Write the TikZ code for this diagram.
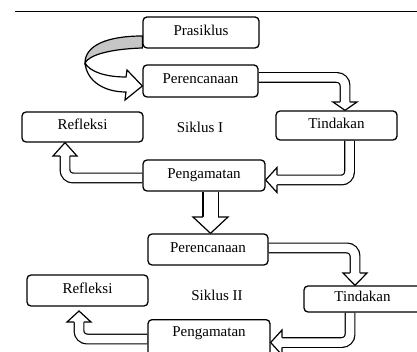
\documentclass[tikz,border=0pt]{standalone}
\usepackage{fontspec}
\setmainfont{Liberation Serif}
\usetikzlibrary{backgrounds}
\begin{document}
\begin{tikzpicture}[x=1pt,y=-1pt,
  box/.style={draw, line width=1.3pt, rounded corners=4pt, fill=white, font=\fontsize{15}{17}\selectfont, inner sep=0pt, text height=1.6ex, text depth=0.35ex},
  shaft/.style={line width=1.2pt, double=white, double distance=8.5pt, rounded corners=8pt},
  wideshaft/.style={line width=1.2pt, double=white, double distance=14pt},
  head/.style={line width=1.2pt, fill=white, line join=miter},
  lbl/.style={font=\fontsize{15}{17}\selectfont}]
\useasboundingbox (0,0) rectangle (417,352);
\draw[line width=1pt] (15,12) -- (417,12);

% boxes
\node[box, minimum width=116pt, minimum height=31pt] (pra) at (201,32.5) {Prasiklus};
\node[box, minimum width=115pt, minimum height=32pt] (per1) at (200.5,81) {Perencanaan};
\node[box, minimum width=121pt, minimum height=30pt] (ref1) at (82.5,127) {Refleksi};
\node[box, minimum width=121pt, minimum height=29pt] (tind1) at (336.5,125.5) {Tindakan};
\node[box, minimum width=122pt, minimum height=31pt] (pen1) at (204,175.5) {Pengamatan};
\node[box, minimum width=120pt, minimum height=31pt] (per2) at (208,249.5) {Perencanaan};
\node[box, minimum width=121pt, minimum height=31pt] (ref2) at (87.5,290.5) {Refleksi};
\node[box, minimum width=117pt, minimum height=26pt] (tind2) at (362.5,299) {Tindakan};
\node[box, minimum width=122pt, anchor=north, inner ysep=4pt, text height=13pt, text depth=22pt] (pen2) at (209,319) {Pengamatan};

\node[lbl] (s1) at (200,127) {Siklus I};
\node[lbl] (s2) at (217,295) {Siklus II};

\begin{pgfonlayer}{background}
% curved arrow from Prasiklus to Perencanaan
\filldraw[line width=1.2pt, fill=gray!45] (pra.west |- 0,36) .. controls (106,36) and (85,46) .. (85,63)
   .. controls (89,55) and (110,49) .. (pra.west |- 0,48) -- cycle;
\filldraw[line width=1.2pt, fill=white, line join=miter] (85,63) .. controls (87,82) and (105,92) .. (126,92)
   -- (125,100) -- (per1.west |- 0,86) -- (127,70) -- (126,77)
   .. controls (106,77) and (90,72) .. (85,63);

% block arrows
\draw[shaft] (per1.east |- 0,77.5) -| (345,102.3);
\filldraw[head] (340.15,102) -- (333,102) -- (tind1.north -| 345,0) -- (357,102) -- (349.85,102);

\draw[shaft] (tind1.south -| 349.5,0) |- (276.7,180);
\filldraw[head] (277,175.15) -- (277,167.5) -- (pen1.east |- 0,180) -- (277,192.5) -- (277,184.85);

\draw[shaft] (pen1.west |- 0,178) -| (65,155.7);
\filldraw[head] (60.15,156) -- (53,156) -- (ref1.south -| 65,0) -- (77,156) -- (69.85,156);

\draw[wideshaft] (pen1.south -| 210.5,0) -- (210.5,217.3);
\filldraw[head] (202.9,217) -- (193,217) -- (per2.north -| 210.5,0) -- (228,217) -- (218.1,217);

\draw[shaft] (per2.east |- 0,248) -| (355,273.3);
\filldraw[head] (350.15,273) -- (343,273) -- (tind2.north -| 355,0) -- (367,273) -- (359.85,273);

\draw[shaft] (tind2.south -| 350,0) |- (281.7,342.5);
\filldraw[head] (282,337.65) -- (282,330) -- (pen2.east |- 0,342.5) -- (282,355) -- (282,347.35);

\draw[shaft] (pen2.west |- 0,339) -| (79,321.7);
\filldraw[head] (74.15,322) -- (67,322) -- (79,311) -- (91,322) -- (83.85,322);
\end{pgfonlayer}
\end{tikzpicture}
\end{document}
